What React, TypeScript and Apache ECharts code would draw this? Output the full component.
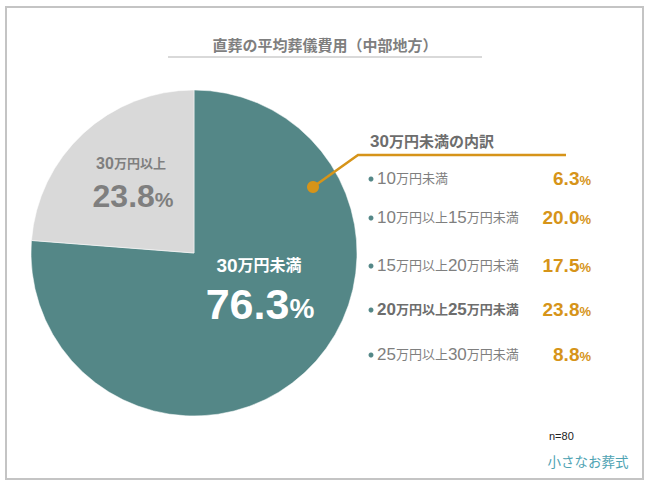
import React, { useEffect, useRef } from 'react';
import * as echarts from 'echarts';

// main split of the pie
const categories = ['30万円未満', '30万円以上'];
const shares = [76.3, 23.8];

// breakdown of the "under 300k" part
const breakdownTitle = '30万円未満の内訳';
const breakdownLabels = [
  '10万円未満',
  '10万円以上15万円未満',
  '15万円以上20万円未満',
  '20万円以上25万円未満',
  '25万円以上30万円未満',
];
const breakdownValues = [6.3, 20.0, 17.5, 23.8, 8.8];
const highlighted = 3;
const sampleSize = 80;

const FONT = '"Liberation Sans", Arial, "Noto Sans CJK JP", sans-serif';
const TEAL = '#548787';
const GRAY_SLICE = '#d9d9d9';
const ORANGE = '#d69419';
const TEXT_GRAY = '#7f7f7f';

// turn "10万円以上15万円未満" into rich text with big digits, small kanji
const richLabel = (s: string, bold: boolean) =>
  s.replace(/(\d+)|([^\d]+)/g, (m, d) => (d ? `{${bold ? 'nb' : 'n'}|${m}}` : `{${bold ? 'kb' : 'k'}|${m}}`));

const App = () => {
  const chartRef = useRef<HTMLDivElement>(null);

  useEffect(() => {
    if (!chartRef.current) return;
    const chart = echarts.init(chartRef.current, null, { renderer: 'svg' });

    const rowY = [178, 217, 265, 309, 354];

    const listItems: any[] = [];
    breakdownLabels.forEach((label, i) => {
      const bold = i === highlighted;
      listItems.push({
        type: 'circle',
        shape: { cx: 371, cy: rowY[i] + 1, r: 2.5 },
        style: { fill: TEAL },
      });
      listItems.push({
        type: 'text',
        x: 377,
        y: rowY[i],
        style: {
          text: richLabel(label, bold),
          textVerticalAlign: 'middle',
          rich: {
            n: { fontFamily: FONT, fontSize: 17, fill: TEXT_GRAY },
            k: { fontFamily: FONT, fontSize: 13, fill: TEXT_GRAY },
            nb: { fontFamily: FONT, fontSize: 17, fill: '#6d6d6d', fontWeight: 'bold' },
            kb: { fontFamily: FONT, fontSize: 13, fill: '#6d6d6d', fontWeight: 'bold' },
          },
        },
      });
      listItems.push({
        type: 'text',
        x: 591,
        y: rowY[i],
        style: {
          text: `{v|${breakdownValues[i].toFixed(1)}}{p|%}`,
          textAlign: 'right',
          textVerticalAlign: 'middle',
          rich: {
            v: { fontFamily: FONT, fontSize: 19, fontWeight: 'bold', fill: ORANGE },
            p: { fontFamily: FONT, fontSize: 13, fontWeight: 'bold', fill: ORANGE, padding: [4, 0, 0, 0] },
          },
        },
      });
    });

    const overlay: any[] = [
      // frame
      {
        type: 'rect',
        shape: { x: 6, y: 7, width: 637, height: 472 },
        style: { fill: 'none', stroke: '#c4c4c4', lineWidth: 2 },
      },
      // title
      {
        type: 'text',
        x: 325,
        y: 45,
        style: {
          text: '直葬の平均葬儀費用（中部地方）',
          textAlign: 'center',
          textVerticalAlign: 'middle',
          fontFamily: FONT,
          fontSize: 15,
          fontWeight: 'bold',
          fill: TEXT_GRAY,
        },
      },
      {
        type: 'line',
        shape: { x1: 168, y1: 57, x2: 482, y2: 57 },
        style: { stroke: '#d9d9d9', lineWidth: 2 },
      },
      // slice labels
      {
        type: 'text',
        x: 131,
        y: 163,
        style: {
          text: richLabel(categories[1], true),
          textAlign: 'center',
          textVerticalAlign: 'middle',
          rich: {
            nb: { fontFamily: FONT, fontSize: 16, fontWeight: 'bold', fill: TEXT_GRAY },
            kb: { fontFamily: FONT, fontSize: 13, fontWeight: 'bold', fill: TEXT_GRAY },
          },
        },
      },
      {
        type: 'text',
        x: 133,
        y: 196,
        style: {
          text: `{v|${shares[1].toFixed(1)}}{p|%}`,
          textAlign: 'center',
          textVerticalAlign: 'middle',
          rich: {
            v: { fontFamily: FONT, fontSize: 32, fontWeight: 'bold', fill: TEXT_GRAY },
            p: { fontFamily: FONT, fontSize: 21, fontWeight: 'bold', fill: TEXT_GRAY, padding: [6, 0, 0, 0] },
          },
        },
      },
      {
        type: 'text',
        x: 259,
        y: 265,
        style: {
          text: richLabel(categories[0], true),
          textAlign: 'center',
          textVerticalAlign: 'middle',
          rich: {
            nb: { fontFamily: FONT, fontSize: 19, fontWeight: 'bold', fill: '#ffffff' },
            kb: { fontFamily: FONT, fontSize: 16, fontWeight: 'bold', fill: '#ffffff' },
          },
        },
      },
      {
        type: 'text',
        x: 260,
        y: 304,
        style: {
          text: `{v|${shares[0].toFixed(1)}}{p|%}`,
          textAlign: 'center',
          textVerticalAlign: 'middle',
          rich: {
            v: { fontFamily: FONT, fontSize: 43, fontWeight: 'bold', fill: '#ffffff' },
            p: { fontFamily: FONT, fontSize: 28, fontWeight: 'bold', fill: '#ffffff', padding: [8, 0, 0, 0] },
          },
        },
      },
      // callout
      {
        type: 'polyline',
        shape: { points: [[313, 187], [358, 155], [566, 155]] },
        style: { stroke: ORANGE, lineWidth: 2.5, fill: 'none' },
      },
      {
        type: 'circle',
        shape: { cx: 313, cy: 187, r: 6 },
        style: { fill: ORANGE },
      },
      {
        type: 'text',
        x: 370,
        y: 141,
        style: {
          text: richLabel(breakdownTitle, true),
          textVerticalAlign: 'middle',
          rich: {
            nb: { fontFamily: FONT, fontSize: 17, fontWeight: 'bold', fill: '#6d6d6d' },
            kb: { fontFamily: FONT, fontSize: 15, fontWeight: 'bold', fill: '#6d6d6d' },
          },
        },
      },
      ...listItems,
      // sample size + logo
      {
        type: 'text',
        x: 549,
        y: 436,
        style: {
          text: `n=${sampleSize}`,
          textVerticalAlign: 'middle',
          fontFamily: FONT,
          fontSize: 11,
          fill: '#222222',
        },
      },
      {
        type: 'text',
        x: 588,
        y: 461,
        style: {
          text: '小さなお葬式',
          textAlign: 'center',
          textVerticalAlign: 'middle',
          fontFamily: '"Noto Sans CJK JP", sans-serif',
          fontSize: 13.5,
          fill: '#4fa3b3',
        },
      },
    ];

    const option = {
      animation: false,
      backgroundColor: '#ffffff',
      series: [
        {
          type: 'pie',
          center: [194, 253],
          radius: 163,
          startAngle: 90,
          clockwise: true,
          z: 1,
          label: { show: false },
          labelLine: { show: false },
          silent: true,
          data: categories.map((name, i) => ({
            name,
            value: shares[i],
            itemStyle: {
              color: i === 0 ? TEAL : GRAY_SLICE,
              borderColor: 'rgba(255,255,255,0.5)',
              borderWidth: 1,
            },
          })),
        },
      ],
      graphic: overlay.map((el) => ({ ...el, z: 100 })),
    };

    chart.setOption(option);
    return () => {
      chart.dispose();
    };
  }, []);

  return (
    <div
      ref={chartRef}
      style={{ position: 'fixed', left: 0, top: 0, width: 650, height: 487 }}
    />
  );
};

export default App;
